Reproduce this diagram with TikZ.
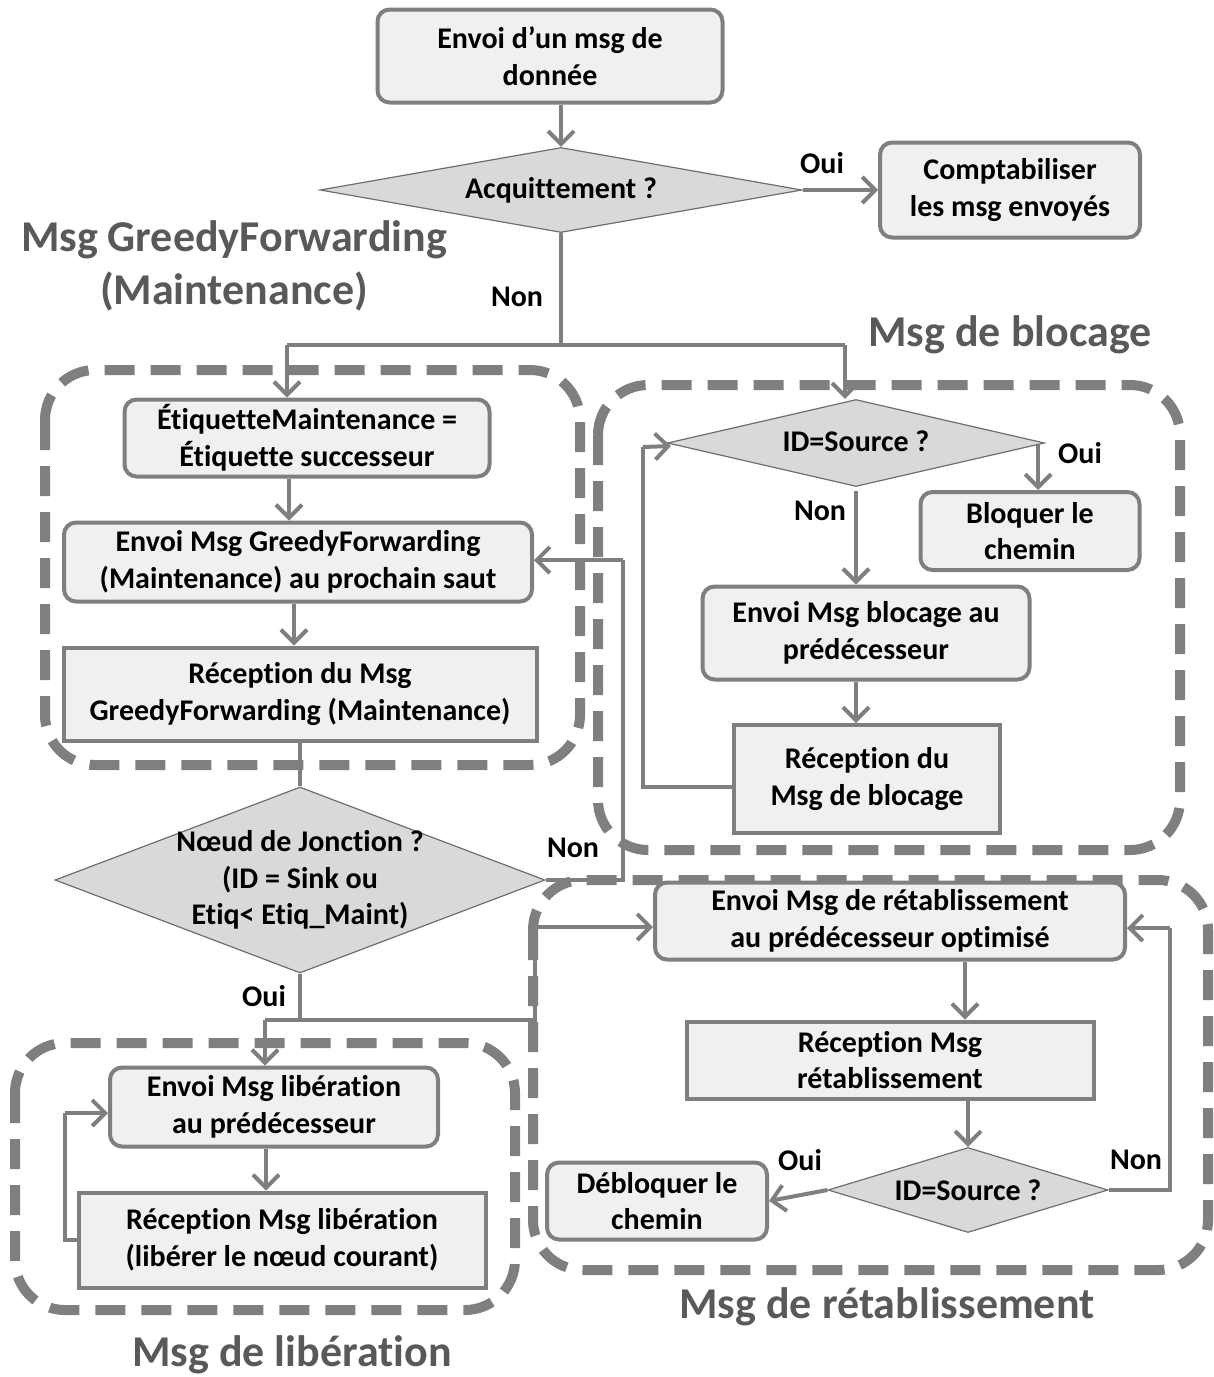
\documentclass[tikz,border=0pt]{standalone}
\usepackage{fontspec}
\setmainfont{Carlito}[Ligatures=NoCommon]
\usetikzlibrary{arrows.meta,shapes.geometric,calc}
\definecolor{boxc}{HTML}{F0F0F0}
\definecolor{bordc}{HTML}{7F7F7F}
\definecolor{linec}{HTML}{7F7F7F}
\definecolor{diafill}{HTML}{D9D9D9}
\definecolor{diabord}{HTML}{6E6E6E}
\definecolor{ttlc}{HTML}{595959}
\begin{document}
\begin{tikzpicture}[x=0.5pt,y=-0.5pt,
  box/.style={draw=bordc, fill=boxc, line width=2pt, rounded corners=6pt, align=center,
    font=\fontsize{15}{18.3}\selectfont\bfseries, inner sep=0pt},
  sqbox/.style={box, sharp corners, line width=2pt},
  dia/.style={draw=diabord, fill=diafill, shape=diamond, line width=0.6pt, inner sep=0pt},
  dtxt/.style={align=center, font=\fontsize{15}{18.3}\selectfont\bfseries, inner sep=0pt},
  arr/.style={draw=linec, line width=2pt, -{Straight Barb[length=6.5pt,width=13pt]}},
  ln/.style={draw=linec, line width=2pt},
  grp/.style={draw=linec, line width=5pt, dash pattern=on 15pt off 8pt, rounded corners=25pt},
  lbl/.style={font=\fontsize{15}{18}\selectfont\bfseries, inner sep=0pt},
  ttl/.style={font=\fontsize{22}{26.5}\selectfont\bfseries, text=ttlc, align=center, inner sep=0pt}]
\useasboundingbox (0,0) rectangle (1214,1377);

% dashed groups
\draw[grp] (45,370) rectangle (580,765);
\draw[grp] (598,385) rectangle (1180,850);
\draw[grp] (533,880) rectangle (1208,1270);
\draw[grp] (15,1043) rectangle (515,1310);

% titles
\node[ttl] (t1) at (234,266) {Msg GreedyForwarding\\(Maintenance)};
\node[ttl] (t2) at (1010,335) {Msg de blocage};
\node[ttl] (t3) at (887,1307) {Msg de rétablissement};
\node[ttl] (t4) at (292,1355) {Msg de libération};

% nodes
\node[box, minimum width=172.5pt, minimum height=46.5pt] (b1) at (550,56) {Envoi d’un msg de\\donnée};
\node[dia, minimum width=241pt, minimum height=42.5pt] (d1) at (561,190) {};
\node[dtxt] at (d1) {Acquittement ?};
\node[box, minimum width=130pt, minimum height=47.5pt] (b2) at (1010,190) {Comptabiliser\\les msg envoyés};

\node[box, minimum width=182.5pt, minimum height=38.5pt] (b3) at (307,438) {ÉtiquetteMaintenance =\\Étiquette successeur};
\node[box, minimum width=234pt, minimum height=39.5pt] (b4) at (298,562) {Envoi Msg GreedyForwarding\\(Maintenance) au prochain saut};
\node[sqbox, minimum width=236.5pt, minimum height=46.5pt] (b5) at (300,694) {Réception du Msg\\GreedyForwarding (Maintenance)};
\node[dia, minimum width=245pt, minimum height=93pt] (d2) at (300,880) {};
\node[dtxt] at (d2) {Nœud de Jonction ?\\(ID = Sink ou\\Etiq< Etiq\_Maint)};

\node[box, minimum width=164pt, minimum height=39.5pt] (b6) at (274,1107) {Envoi Msg libération\\au prédécesseur};
\node[sqbox, minimum width=203.5pt, minimum height=47.5pt] (b7) at (282,1240) {Réception Msg libération\\(libérer le nœud courant)};

\node[dia, minimum width=188.5pt, minimum height=43.5pt] (d3) at (856,443) {};
\node[dtxt] at ([yshift=1pt]d3.center) {ID=Source ?};
\node[box, minimum width=109.5pt, minimum height=39pt] (b8) at (1030,531) {Bloquer le\\chemin};
\node[box, minimum width=163.5pt, minimum height=46.5pt] (b9) at (866,633) {Envoi Msg blocage au\\prédécesseur};
\node[sqbox, minimum width=133pt, minimum height=54pt] (b10) at (867,779) {Réception du\\Msg de blocage};

\node[box, minimum width=235pt, minimum height=38.5pt] (b11) at (890,921) {Envoi Msg de rétablissement\\au prédécesseur optimisé};
\node[sqbox, minimum width=203.5pt, minimum height=38.5pt] (b12) at (890,1060) {Réception Msg\\rétablissement};
\node[dia, minimum width=140pt, minimum height=42.5pt] (d4) at (968,1190) {};
\node[dtxt] at (d4) {ID=Source ?};
\node[box, minimum width=110pt, minimum height=38.5pt] (b13) at (657,1201) {Débloquer le\\chemin};

% coordinates
\coordinate (j1) at (561,345);
\coordinate (jl) at (287,345);
\coordinate (jr) at (845,345);
\coordinate (n1) at (623,880);
\coordinate (n2) at (623,560);
\coordinate (ol) at (265,1020);
\coordinate (or) at (535,1020);
\coordinate (or2) at (535,927);
\coordinate (lp1) at (65,1240);
\coordinate (lp2) at (65,1113);
\coordinate (bp1) at (643,787);
\coordinate (bp2) at (643,447);
\coordinate (rp1) at (1170,1190);
\coordinate (rp2) at (1170,928);

% connectors
\draw[arr] (b1.south -| d1.north) -- (d1.north);
\draw[arr] (d1.east) -- (b2.west);
\node[lbl] (lo1) at (822,163) {Oui};
\draw[ln] (d1.south) -- (j1);
\node[lbl] (ln1) at (517,297) {Non};
\draw[ln] (jl) -- (jr);
\draw[arr] (jl) -- (jl |- b3.north);
\draw[arr] (jr) -- (jr |- d3.north);

\draw[arr] ([xshift=-9pt]b3.south) -- ([xshift=-9pt]b3.south |- b4.north);
\draw[arr] ([xshift=-2pt]b4.south) -- ([xshift=-2pt]b4.south |- b5.north);
\draw[ln] (b5.south -| d2.north) -- (d2.north);

\draw[ln] (d2.east) -- (n1) -- (n2);
\draw[arr] (n2) -- (n2 -| b4.east);
\node[lbl] (ln2) at (573,848) {Non};

\draw[ln] (d2.south) -- (d2.south |- ol);
\draw[ln] (ol) -- (or) -- (or2);
\draw[arr] (or2) -- (or2 -| b11.west);
\draw[arr] (ol) -- (ol |- b6.north);
\node[lbl] (lo2) at (264,996) {Oui};

\draw[arr] ([xshift=-4pt]b6.south) -- ([xshift=-4pt]b6.south |- b7.north);
\draw[ln] (b7.west) -- (lp1) -- (lp2);
\draw[arr] (lp2) -- (lp2 -| b6.west);

\draw[arr] ([xshift=-3.5pt,yshift=-1pt]d3.east) -- ([xshift=-3.5pt]d3.east |- b8.north);
\node[lbl] (lo3) at (1080,453) {Oui};
\draw[arr] ([yshift=-2pt]d3.south) -- (d3.south |- b9.north);
\node[lbl] (ln3) at (820,511) {Non};
\draw[arr] (b9.south -| d3.south) -- (d3.south |- b10.north);
\draw[ln] (bp1 -| b10.west) -- (bp1) -- (bp2);
\draw[arr] (bp2) -- ([xshift=2pt,yshift=-1.5pt]d3.west);

\draw[arr] ([xshift=37.5pt]b11.south) -- ([xshift=37.5pt]b11.south |- b12.north);
\draw[arr] (b12.south -| d4.north) -- (d4.north);
\draw[arr] (d4.west) -- (b13.east);
\node[lbl] (lo4) at (800,1160) {Oui};
\draw[ln] (d4.east) -- (rp1) -- (rp2);
\draw[arr] (rp2) -- (rp2 -| b11.east);
\node[lbl] (ln4) at (1136,1160) {Non};
\end{tikzpicture}
\end{document}
